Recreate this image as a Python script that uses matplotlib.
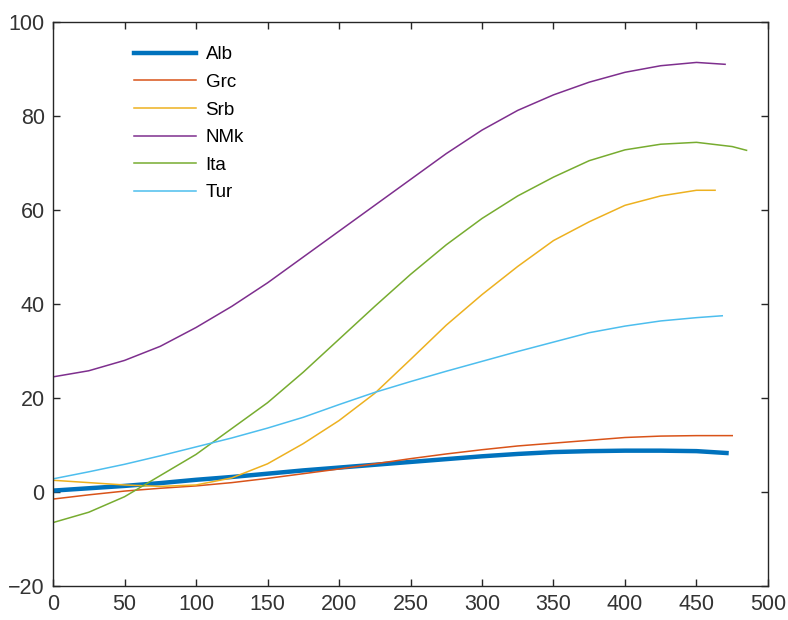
import matplotlib.pyplot as plt

plt.rcParams['font.family'] = ['Liberation Sans', 'DejaVu Sans']

# values at every 25 units, last point is the curve end
x_std = [0, 25, 50, 75, 100, 125, 150, 175, 200, 225, 250, 275, 300,
         325, 350, 375, 400, 425, 450]

alb_x = x_std + [471]
alb = [0.3, 0.8, 1.3, 1.9, 2.6, 3.2, 3.9, 4.6, 5.2, 5.8, 6.4, 7.0, 7.6,
       8.1, 8.5, 8.7, 8.8, 8.8, 8.7, 8.3]

grc_x = x_std + [475]
grc = [-1.5, -0.6, 0.2, 0.8, 1.3, 2.0, 2.9, 3.9, 4.9, 6.0, 7.1, 8.1, 9.0,
       9.8, 10.4, 11.0, 11.6, 11.9, 12.0, 12.0]

srb_x = x_std + [463]
srb = [2.5, 2.0, 1.5, 1.2, 1.5, 3.0, 6.0, 10.3, 15.2, 21.0, 28.2, 35.5, 42.0,
       48.0, 53.5, 57.5, 61.0, 63.0, 64.2, 64.2]

nmk_x = x_std + [470]
nmk = [24.5, 25.8, 28.0, 31.0, 35.0, 39.5, 44.5, 50.0, 55.5, 61.0, 66.5, 72.0, 77.0,
       81.2, 84.5, 87.2, 89.3, 90.7, 91.4, 91.0]

ita_x = x_std + [475, 485]
ita = [-6.5, -4.3, -1.0, 3.5, 8.0, 13.5, 19.0, 25.5, 32.5, 39.5, 46.3, 52.6, 58.2,
       63.0, 67.0, 70.5, 72.8, 74.0, 74.4, 73.5, 72.7]

tur_x = x_std + [468]
tur = [2.8, 4.3, 5.9, 7.7, 9.6, 11.5, 13.6, 15.9, 18.6, 21.2, 23.5, 25.7, 27.8,
       29.9, 31.9, 33.9, 35.3, 36.4, 37.1, 37.5]

fig = plt.figure(figsize=(7.88, 6.2), dpi=100)
ax = fig.add_axes([0.0673, 0.0548, 0.9073, 0.9097])

ax.plot(alb_x, alb, color='#0072BD', lw=3.2, label='Alb')
ax.plot(grc_x, grc, color='#D95319', lw=1.1, label='Grc')
ax.plot(srb_x, srb, color='#EDB120', lw=1.1, label='Srb')
ax.plot(nmk_x, nmk, color='#7E2F8E', lw=1.1, label='NMk')
ax.plot(ita_x, ita, color='#77AC30', lw=1.1, label='Ita')
ax.plot(tur_x, tur, color='#4DBEEE', lw=1.1, label='Tur')

ax.set_xlim(0, 500)
ax.set_ylim(-20, 100)
ax.set_xticks(range(0, 501, 50))
ax.set_yticks(range(-20, 101, 20))
ax.tick_params(direction='in', top=True, right=True, length=5, width=1,
               color='#262626', labelsize=15.5, labelcolor='#333333', pad=6)
for s in ax.spines.values():
    s.set_color('#262626')
    s.set_linewidth(1)

ax.legend(loc='upper left', bbox_to_anchor=(0.09, 0.987), frameon=False,
          fontsize=13.5, handlelength=3.3, labelspacing=0.56, handletextpad=0.5)

plt.savefig('out.png', dpi=100)
